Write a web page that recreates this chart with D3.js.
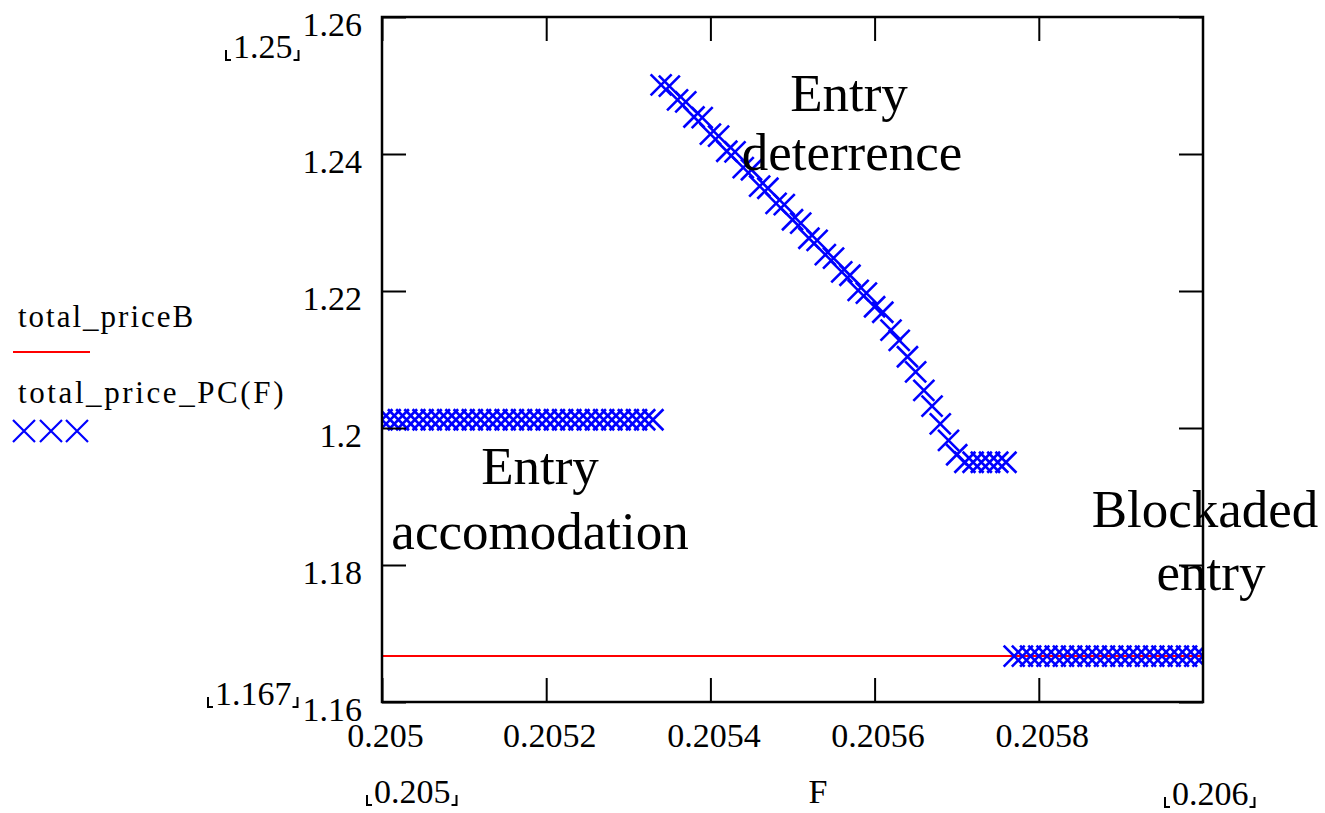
<!DOCTYPE html>
<html>
<head>
<meta charset="utf-8">
<script src="https://cdnjs.cloudflare.com/ajax/libs/d3/7.8.5/d3.min.js"></script>
<style>
body { margin: 0; background: #fff; }
text { font-family: "Liberation Serif", "Times New Roman", serif; fill: #000; }
</style>
</head>
<body>
<div id="canvas"></div>
<script>
// F values of the range variable (step 0.00001)
var fValues = [
	0.20500, 0.20501, 0.20502, 0.20503, 0.20504, 0.20505, 0.20506, 0.20507, 0.20508, 0.20509,
	0.20510, 0.20511, 0.20512, 0.20513, 0.20514, 0.20515, 0.20516, 0.20517, 0.20518, 0.20519,
	0.20520, 0.20521, 0.20522, 0.20523, 0.20524, 0.20525, 0.20526, 0.20527, 0.20528, 0.20529,
	0.20530, 0.20531, 0.20532, 0.20533, 0.20534, 0.20535, 0.20536, 0.20537, 0.20538, 0.20539,
	0.20540, 0.20541, 0.20542, 0.20543, 0.20544, 0.20545, 0.20546, 0.20547, 0.20548, 0.20549,
	0.20550, 0.20551, 0.20552, 0.20553, 0.20554, 0.20555, 0.20556, 0.20557, 0.20558, 0.20559,
	0.20560, 0.20561, 0.20562, 0.20563, 0.20564, 0.20565, 0.20566, 0.20567, 0.20568, 0.20569,
	0.20570, 0.20571, 0.20572, 0.20573, 0.20574, 0.20575, 0.20576, 0.20577, 0.20578, 0.20579,
	0.20580, 0.20581, 0.20582, 0.20583, 0.20584, 0.20585, 0.20586, 0.20587, 0.20588, 0.20589,
	0.20590, 0.20591, 0.20592, 0.20593, 0.20594, 0.20595, 0.20596, 0.20597, 0.20598, 0.20599,
	0.20600
];

// total_price_PC(F)
var pricePC = [
	1.2012, 1.2012, 1.2012, 1.2012, 1.2012, 1.2012, 1.2012, 1.2012, 1.2012, 1.2012,
	1.2012, 1.2012, 1.2012, 1.2012, 1.2012, 1.2012, 1.2012, 1.2012, 1.2012, 1.2012,
	1.2012, 1.2012, 1.2012, 1.2012, 1.2012, 1.2012, 1.2012, 1.2012, 1.2012, 1.2012,
	1.2012, 1.2012, 1.2012, 1.2012, 1.2501, 1.2499, 1.2479, 1.2476, 1.2454, 1.2453,
	1.2429, 1.2426, 1.2404, 1.2403, 1.2380, 1.2377, 1.2353, 1.2350, 1.2328, 1.2326,
	1.2304, 1.2299, 1.2277, 1.2274, 1.2253, 1.2248, 1.2228, 1.2223, 1.2201, 1.2197,
	1.2177, 1.2169, 1.2143, 1.2128, 1.2104, 1.2082, 1.2055, 1.2032, 1.2006, 1.1982,
	1.1961, 1.1950, 1.1950, 1.1950, 1.1950, 1.1950, 1.1950, 1.1667, 1.1667, 1.1667,
	1.1667, 1.1667, 1.1667, 1.1667, 1.1667, 1.1667, 1.1667, 1.1667, 1.1667, 1.1667,
	1.1667, 1.1667, 1.1667, 1.1667, 1.1667, 1.1667, 1.1667, 1.1667, 1.1667, 1.1667,
	1.1667
];

// total_priceB is a constant
var priceB_F = [0.205, 0.206];
var priceB = [1.1667, 1.1667];

var xTicks = [0.205, 0.2052, 0.2054, 0.2056, 0.2058];
var xTickLabels = ['0.205', '0.2052', '0.2054', '0.2056', '0.2058'];
var yTicks = [1.16, 1.18, 1.2, 1.22, 1.24, 1.26];
var yTickLabels = ['1.16', '1.18', '1.2', '1.22', '1.24', '1.26'];

var xDomain = [0.205, 0.206];
var yDomain = [1.16, 1.26];

var legendNames = ['total_priceB', 'total_price_PC(F)'];
var regionNames = [['Entry', 'deterrence'], ['Entry', 'accomodation'], ['Blockaded', 'entry']];

var W = 1325, H = 813;
var L = 382, R = 1203, T = 17, B = 702;

var svg = d3.select('#canvas').append('svg')
	.attr('width', W) //setting width
	.attr('height', H); //setting height

var x = d3.scaleLinear().domain(xDomain).range([L, R]);
var y = d3.scaleLinear().domain(yDomain).range([B, T]);

svg.append('clipPath').attr('id', 'plotclip')
	.append('rect').attr('x', L).attr('y', T).attr('width', R - L).attr('height', B - T);

// red constant line first, crosses go over it
var redLine = d3.line()
	.x(function (d, i) { return x(priceB_F[i]); })
	.y(function (d) { return y(d); });
svg.append('path')
	.datum(priceB)
	.attr('d', redLine)
	.attr('fill', 'none')
	.attr('stroke', '#ff0000')
	.attr('stroke-width', 2);

// blue x markers
var ms = 10.5;
var pts = pricePC.map(function (p, i) { return { f: fValues[i], p: p }; });
svg.append('g').attr('clip-path', 'url(#plotclip)')
	.selectAll('path.pc').data(pts)
	.enter().append('path')
	.attr('class', 'pc')
	.attr('d', function (d) {
		var cx = x(d.f), cy = y(d.p);
		return 'M' + (cx - ms) + ',' + (cy - ms) + 'L' + (cx + ms) + ',' + (cy + ms) +
			'M' + (cx - ms) + ',' + (cy + ms) + 'L' + (cx + ms) + ',' + (cy - ms);
	})
	.attr('stroke', '#0000ff')
	.attr('stroke-width', 2.6)
	.attr('fill', 'none');

// axes, ticks pointing inwards on all four sides
var gl = svg.append('g').attr('transform', 'translate(' + L + ',0)')
	.call(d3.axisLeft(y).tickValues(yTicks).tickSize(-24).tickPadding(20)
		.tickFormat(function (d, i) { return yTickLabels[i]; }));
gl.selectAll('text').attr('dy', 18).style('font-size', '34px')
	.style('font-family', '"Liberation Serif", serif');

svg.append('g').attr('transform', 'translate(' + R + ',0)')
	.call(d3.axisRight(y).tickValues(yTicks).tickSize(-24).tickFormat(''));

var gb = svg.append('g').attr('transform', 'translate(0,' + B + ')')
	.call(d3.axisBottom(x).tickValues(xTicks).tickSize(-24)
		.tickFormat(function (d, i) { return xTickLabels[i]; }));
gb.selectAll('text').attr('y', 45).attr('dy', 0).attr('dx', 3).style('font-size', '34px')
	.style('font-family', '"Liberation Serif", serif');

svg.append('g').attr('transform', 'translate(0,' + T + ')')
	.call(d3.axisTop(x).tickValues(xTicks).tickSize(-24).tickFormat(''));

svg.selectAll('.domain').remove();
svg.selectAll('.tick line').attr('stroke', '#000').attr('stroke-width', 2);

// frame
svg.append('rect')
	.attr('x', L).attr('y', T).attr('width', R - L).attr('height', B - T)
	.attr('fill', 'none').attr('stroke', '#000').attr('stroke-width', 2.5);

// range limits with MathCad corner brackets
var limits = [
	{ t: '1.25', x: 233, y: 58 },
	{ t: '1.167', x: 215, y: 705 },
	{ t: '0.205', x: 374, y: 803 },
	{ t: '0.206', x: 1172, y: 805 }
];
limits.forEach(function (d) {
	var txt = svg.append('text').attr('x', d.x).attr('y', d.y).style('font-size', '34px').text(d.t);
	var bb = txt.node().getBBox();
	var bl = bb.x - 7, br = bb.x + bb.width + 6;
	svg.append('path')
		.attr('d', 'M' + bl + ',' + (d.y - 8) + 'V' + (d.y + 2) + 'h5' +
			'M' + br + ',' + (d.y - 8) + 'V' + (d.y + 2) + 'h-5')
		.attr('stroke', '#000').attr('stroke-width', 2).attr('fill', 'none');
});

svg.append('text').attr('x', 818).attr('y', 803).attr('text-anchor', 'middle')
	.style('font-size', '34px').text('F');

// legend
svg.append('text').attr('x', 18).attr('y', 327).style('font-size', '31px')
	.style('letter-spacing', '2px').text(legendNames[0]);
svg.append('line').attr('x1', 13).attr('x2', 90).attr('y1', 352).attr('y2', 352)
	.attr('stroke', '#ff0000').attr('stroke-width', 2);
svg.append('text').attr('x', 18).attr('y', 403).style('font-size', '31px')
	.style('letter-spacing', '2.6px').text(legendNames[1]);
[24, 51, 77].forEach(function (cx) {
	var cy = 431, s = 11;
	svg.append('path')
		.attr('d', 'M' + (cx - s) + ',' + (cy - s) + 'L' + (cx + s) + ',' + (cy + s) +
			'M' + (cx - s) + ',' + (cy + s) + 'L' + (cx + s) + ',' + (cy - s))
		.attr('stroke', '#0000ff').attr('stroke-width', 2.2).attr('fill', 'none');
});

// region annotations
var notePos = [[849, 111, 852, 170], [540, 484, 540, 549], [1205, 527, 1211, 590]];
regionNames.forEach(function (n, i) {
	var p = notePos[i];
	svg.append('text').attr('x', p[0]).attr('y', p[1]).attr('text-anchor', 'middle')
		.style('font-size', '53px').text(n[0]);
	svg.append('text').attr('x', p[2]).attr('y', p[3]).attr('text-anchor', 'middle')
		.style('font-size', '53px').text(n[1]);
});
</script>
</body>
</html>
